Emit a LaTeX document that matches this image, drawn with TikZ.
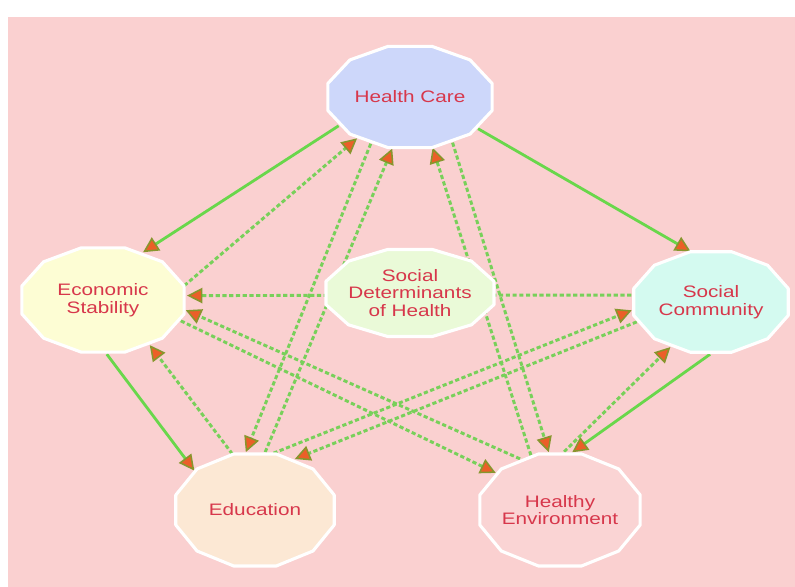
\documentclass[tikz,border=0pt]{standalone}
\usepackage{fontspec}
\setmainfont{Liberation Sans}[FakeStretch=1.25]
\usetikzlibrary{arrows.meta,shapes.geometric}

\definecolor{bgpink}{RGB}{250,208,208}
\definecolor{labelred}{RGB}{215,55,75}
\definecolor{linkgreen}{RGB}{105,215,75}
\definecolor{dashgreen}{RGB}{120,208,90}
\definecolor{tipfill}{RGB}{235,95,40}
\definecolor{tipline}{RGB}{135,150,45}
\definecolor{carefill}{RGB}{205,215,250}
\definecolor{moneyfill}{RGB}{253,253,212}
\definecolor{centrefill}{RGB}{234,250,216}
\definecolor{communityfill}{RGB}{212,250,240}
\definecolor{schoolfill}{RGB}{252,232,212}
\definecolor{envfill}{RGB}{250,212,212}

\pgfdeclarelayer{back}
\pgfdeclarelayer{edges}
\pgfdeclarelayer{fills}
\pgfsetlayers{back,edges,fills,main}

% twelve-sided outline round an elliptic node: name, fill, x radius, y radius
\newcommand\facet[4]{%
  \filldraw[fill=#2, draw=white, line width=2.2pt, line join=round]
    ([shift={(15:#3 and #4)}]#1.center)
    \foreach \a in {45,75,...,345}{ -- ([shift={(\a:#3 and #4)}]#1.center)} -- cycle;}

\begin{document}
\begin{tikzpicture}[
    blob/.style={
        ellipse,
        inner sep=0pt,
        align=center,
        text=labelred,
        font=\fontsize{11.8}{12.6}\selectfont
    },
    tip/.style={-{Triangle[length=11pt, width=11pt, fill=tipfill, color=tipline, line width=1.1pt]}},
    solidlink/.style={tip, draw=linkgreen, line width=2pt},
    dashlink/.style={tip, draw=dashgreen, line width=2.1pt, dash pattern=on 3pt off 1.8pt}
]

\useasboundingbox (0,0) rectangle (19.875,14.675);
\begin{pgfonlayer}{back}
\fill[bgpink] (0.2,0) rectangle (19.875,14.25);
\end{pgfonlayer}

% Nodes
\node[blob, minimum width=4.25cm, minimum height=2.62cm] (hc) at (10.25,12.25) {Health Care};
\node[blob, minimum width=4.2cm, minimum height=2.7cm] (es) at (2.575,7.175) {Economic\\Stability};
\node[blob, minimum width=4.35cm, minimum height=2.25cm] (sd) at (10.25,7.35) {Social\\Determinants\\of Health};
\node[blob, minimum width=4.0cm, minimum height=2.6cm] (sc) at (17.775,7.125) {Social\\Community};
\node[blob, minimum width=4.1cm, minimum height=2.9cm] (ed) at (6.375,1.925) {Education};
\node[blob, minimum width=4.15cm, minimum height=2.9cm] (he) at (14.0,1.925) {Healthy\\Environment};

\begin{pgfonlayer}{fills}
\facet{hc}{carefill}{2.125cm}{1.31cm}
\facet{es}{moneyfill}{2.1cm}{1.35cm}
\facet{sd}{centrefill}{2.175cm}{1.125cm}
\facet{sc}{communityfill}{2.0cm}{1.3cm}
\facet{ed}{schoolfill}{2.05cm}{1.45cm}
\facet{he}{envfill}{2.075cm}{1.45cm}
\end{pgfonlayer}

\begin{pgfonlayer}{edges}
% outer ring
\draw[solidlink] (hc.202) -- (es.50);
\draw[solidlink] (hc.335) -- (sc.112);
\draw[solidlink] (es.274) -- (ed.147);
\draw[solidlink] (sc.269) -- (he.78);

% cross links
\draw[dashlink] (es.10) -- (hc.218);
\draw[dashlink] (ed.80) -- (hc.251);
\draw[dashlink] (hc.230) -- (ed.99);
\draw[dashlink] (he.118) -- (hc.294);
\draw[dashlink] (hc.313) -- (he.101);
\draw[dashlink] (sc.175) -- (es.3);
\draw[dashlink] (he.128) -- (es.353);
\draw[dashlink] (es.345) -- (he.150);
\draw[dashlink] (ed.72) -- (sc.186);
\draw[dashlink] (sc.195) -- (ed.52);
\draw[dashlink] (he.86) -- (sc.228);
\draw[dashlink] (ed.112) -- (es.316);
\end{pgfonlayer}

\end{tikzpicture}
\end{document}
